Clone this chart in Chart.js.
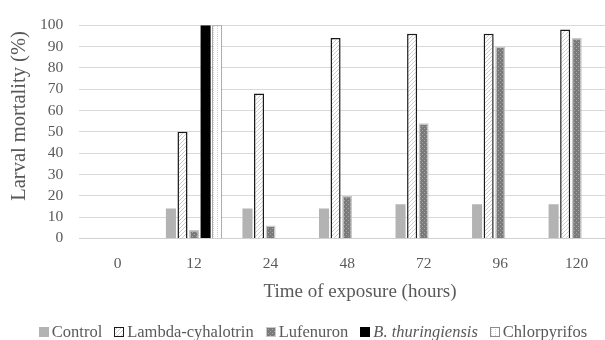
<!DOCTYPE html>
<html>
<head>
<meta charset="utf-8">
<script src="https://cdn.jsdelivr.net/npm/chart.js@4/dist/chart.umd.min.js"></script>
<style>
  html, body { margin: 0; padding: 0; background: #fff; overflow: hidden; }
  #wrap { position: relative; width: 615px; height: 340px; }
  #legenda {
    position: absolute; left: 0; top: 322px; width: 626px;
    display: flex; justify-content: center; align-items: center;
    font-family: 'Liberation Serif', serif; font-size: 16.5px; color: #595959;
  }
  #legenda span.item { display: flex; align-items: center; margin: 0 6px; white-space: nowrap; }
  #legenda canvas { margin-right: 3px; }
</style>
</head>
<body>
<div id="wrap">
  <canvas id="grafico"></canvas>
  <div id="legenda"></div>
</div>
<script>
// dados
const horas = ['0', '12', '24', '48', '72', '96', '120'];
const controle = [0, 14, 14, 14, 16, 16, 16];
const lambda = [0, 50, 68, 94, 96, 96, 98];
const lufenuron = [0, 4, 6, 20, 54, 90, 94];
const bt = [0, 100, 0, 0, 0, 0, 0];
const clorpirifos = [0, 100, 0, 0, 0, 0, 0];

// padrões de preenchimento (hachuras tipo Excel)
function padrao(fundo, desenha) {
  const c = document.createElement('canvas');
  c.width = 4; c.height = 4;
  const g = c.getContext('2d');
  g.fillStyle = fundo;
  g.fillRect(0, 0, 4, 4);
  desenha(g);
  return g.createPattern(c, 'repeat');
}

const ctx = document.getElementById('grafico').getContext('2d');

const hachuraDiag = padrao('#ffffff', g => {
  g.fillStyle = '#cccccc';
  g.fillRect(3, 0, 1, 1); g.fillRect(2, 1, 1, 1);
  g.fillRect(1, 2, 1, 1); g.fillRect(0, 3, 1, 1);
});
const pontosEscuros = padrao('#7a7a7a', g => {
  g.fillStyle = '#a8a8a8';
  g.fillRect(0, 0, 1, 1); g.fillRect(2, 2, 1, 1);
});
const pontosClaros = padrao('#ffffff', g => {
  g.fillStyle = '#d0d0d0';
  g.fillRect(1, 0, 1, 1); g.fillRect(1, 2, 1, 1);
});

const fonte = 'Liberation Serif';
const cinza = '#595959';

const series = [
  { label: 'Control', data: controle, backgroundColor: '#b3b3b3', borderColor: '#b3b3b3', borderWidth: 0 },
  { label: 'Lambda-cyhalotrin', data: lambda, backgroundColor: hachuraDiag, borderColor: '#1a1a1a', borderWidth: 1.5 },
  { label: 'Lufenuron', data: lufenuron, backgroundColor: pontosEscuros, borderColor: '#c8c8c8', borderWidth: 1.5 },
  { label: 'B. thuringiensis', data: bt, backgroundColor: '#000000', borderColor: '#000000', borderWidth: 0, italico: true },
  { label: 'Chlorpyrifos', data: clorpirifos, backgroundColor: pontosClaros, borderColor: '#8c8c8c', borderWidth: 1 }
];

// títulos dos eixos desenhados na posição do original
const titulos = {
  id: 'titulos',
  afterDraw(chart) {
    const c = chart.ctx;
    c.save();
    c.fillStyle = cinza;
    c.textAlign = 'center';
    c.textBaseline = 'middle';
    c.font = '19px "' + fonte + '"';
    c.fillText('Time of exposure (hours)', 360, 292);
    c.font = '20.5px "' + fonte + '"';
    c.translate(20, 116);
    c.rotate(-Math.PI / 2);
    c.fillText('Larval mortality (%)', 0, 0);
    c.restore();
  }
};

new Chart(ctx, {
  type: 'bar',
  data: { labels: horas, datasets: series },
  plugins: [titulos],
  options: {
    responsive: true,
    maintainAspectRatio: false,
    animation: false,
    categoryPercentage: 0.755,
    barPercentage: 0.87,
    layout: { padding: { top: 23, left: 24, right: 0, bottom: 51 } },
    plugins: {
      legend: { display: false },
      tooltip: { enabled: false }
    },
    scales: {
      x: {
        grid: { display: false, drawTicks: false },
        border: { color: '#d0d0d0' },
        ticks: { color: cinza, padding: 16, font: { family: fonte, size: 15.5 } }
      },
      y: {
        min: 0,
        max: 100,
        grid: { color: '#d9d9d9', drawTicks: false },
        border: { display: false },
        ticks: { stepSize: 10, autoSkip: false, color: cinza, padding: 16, font: { family: fonte, size: 15.5 } }
      }
    }
  }
});

// legenda em HTML (permite o itálico de B. thuringiensis)
const legenda = document.getElementById('legenda');
series.forEach(s => {
  const item = document.createElement('span');
  item.className = 'item';
  const caixa = document.createElement('canvas');
  caixa.width = 10; caixa.height = 10;
  const g = caixa.getContext('2d');
  g.fillStyle = s.backgroundColor;
  g.fillRect(0, 0, 10, 10);
  if (s.borderWidth) {
    g.strokeStyle = s.borderColor;
    g.lineWidth = 1;
    g.strokeRect(0.5, 0.5, 9, 9);
  }
  const texto = document.createElement('span');
  texto.textContent = s.label;
  if (s.italico) texto.style.fontStyle = 'italic';
  item.appendChild(caixa);
  item.appendChild(texto);
  legenda.appendChild(item);
});
</script>
</body>
</html>
